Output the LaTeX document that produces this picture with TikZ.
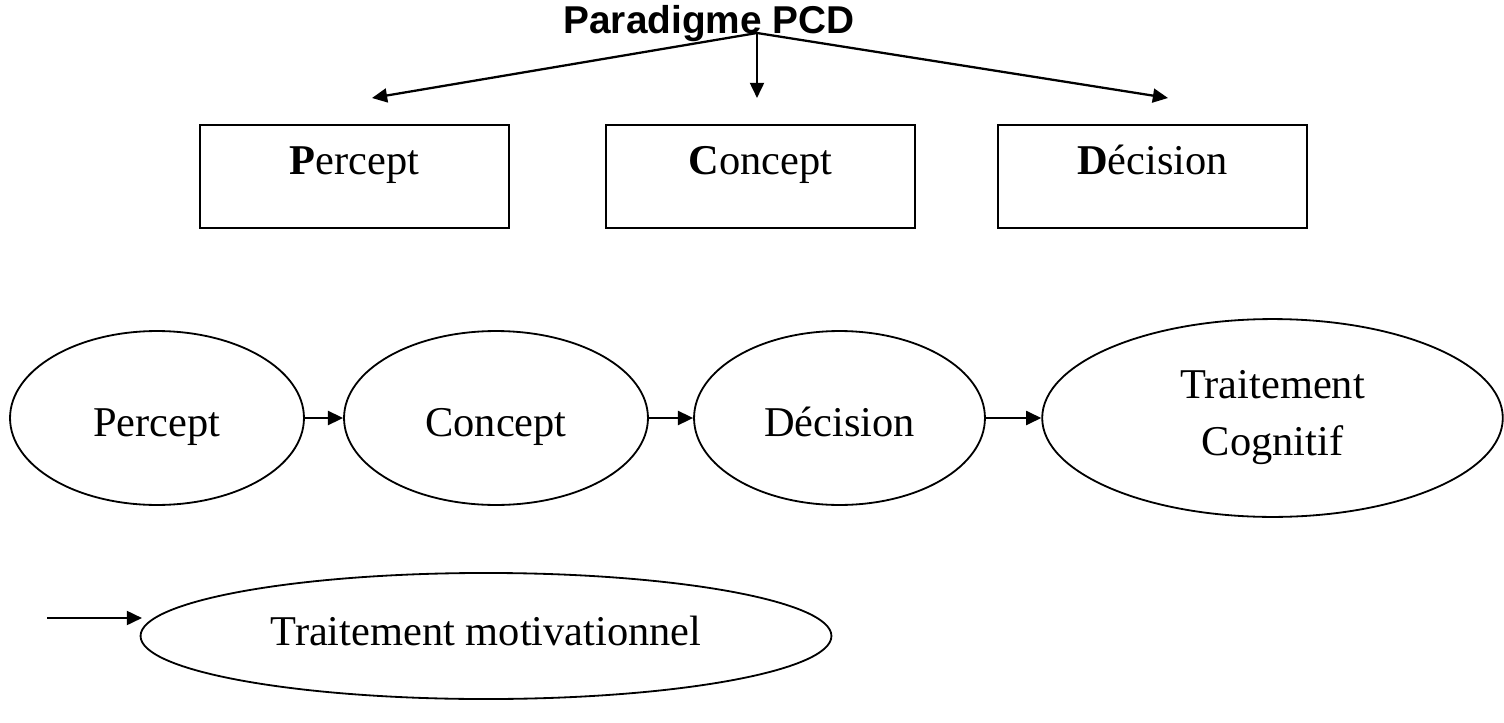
\documentclass[tikz,border=0pt]{standalone}
\usepackage{fontspec}
\setmainfont{Liberation Serif}
\newfontfamily\titlefont{Liberation Sans}
\usetikzlibrary{arrows.meta,positioning,shapes.geometric}

\tikzset{
  box/.style={draw,line width=0.9pt,minimum width=102pt,minimum height=34pt,
    inner sep=0pt,text height=10pt,text depth=11.5pt},
  oval/.style={draw,ellipse,line width=0.6pt,inner sep=0pt,align=center},
  mot/.style={text height=12.5pt,text depth=0pt},
  arr/.style={line width=0.75pt,-{Triangle[length=5pt,width=4.6pt]}},
}

\begin{document}
\begin{tikzpicture}[x=0.33pt,y=-0.33pt,font=\fontsize{14}{18.8}\selectfont]
  \useasboundingbox (0,0) rectangle (1504,723);
  % titre et fleches
  \node[font=\titlefont\bfseries\fontsize{12.8}{15}\selectfont,anchor=base] (titre) at (709,33) {Paradigme PCD};
  \coordinate (sommet) at (757,33);
  \coordinate (versP) at (372,98);
  \coordinate (versC) at (757,98);
  \coordinate (versD) at (1168,98);
  \foreach \v in {versP,versC,versD}
    \draw[arr] (sommet) -- (\v);
  % les trois cadres
  \node[box] (cadreP) at (354.5,176.5) {\textbf{P}ercept};
  \node[box] (cadreC) at (760.5,176.5) {\textbf{C}oncept};
  \node[box] (cadreD) at (1152.5,176.5) {\textbf{D}écision};
  % chaine de traitement
  \node[oval,mot,minimum width=97pt,minimum height=57.4pt] (percept) at (157,418) {Percept};
  \node[oval,mot,minimum width=100.3pt,minimum height=57.4pt] (concept) at (496,418) {Concept};
  \node[oval,mot,minimum width=96pt,minimum height=57.4pt] (decision) at (839.5,418) {Décision};
  \node[oval,minimum width=152pt,minimum height=65.3pt] (cognitif) at (1272.5,418) {Traitement\\Cognitif};
  \draw[arr] (percept) -- (concept);
  \draw[arr] (concept) -- (decision);
  \draw[arr] (decision) -- (cognitif);
  % traitement motivationnel
  \node[oval,text depth=3.3pt,minimum width=228pt,minimum height=41.6pt] (motiv) at (486,636) {Traitement motivationnel};
  \coordinate (entree) at (47,618);
  \coordinate (pointe) at (142,618);
  \draw[arr] (entree) -- (pointe);
\end{tikzpicture}
\end{document}
